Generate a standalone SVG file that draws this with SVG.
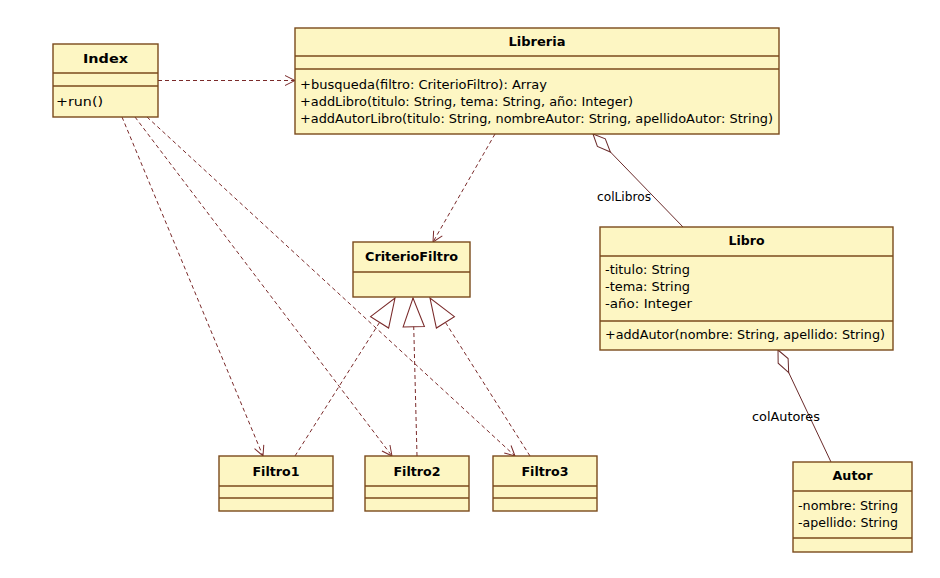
<svg xmlns="http://www.w3.org/2000/svg" width="940" height="578" viewBox="0 0 940 578">
  <defs>
    <style>
      .box { fill: #fdf6c3; stroke: #7a4a1c; stroke-width: 1.4; }
      .sep { stroke: #7a4a1c; stroke-width: 1.4; }
      .name { font-family: "DejaVu Sans", Verdana, sans-serif; font-size: 12.5px; font-weight: bold; fill: #000; text-anchor: middle; }
      .member { font-family: "DejaVu Sans", Verdana, sans-serif; font-size: 12px; fill: #000; }
      .label { font-family: "DejaVu Sans", Verdana, sans-serif; font-size: 12px; fill: #000; }
      .dep { fill: none; stroke: #7a2a2a; stroke-width: 1; stroke-dasharray: 4 3; }
      .assoc { fill: none; stroke: #6a2a2a; stroke-width: 1; }
    </style>
    <!-- open arrowhead for dependencies -->
    <marker id="open" markerUnits="userSpaceOnUse" markerWidth="14" markerHeight="14" viewBox="-1 -7 13 14" refX="10" refY="0" orient="auto">
      <path d="M0,-5 L10,0 L0,5" fill="none" stroke="#7a2a2a" stroke-width="1"/>
    </marker>
    <!-- hollow triangle for realization -->
    <marker id="tri" markerUnits="userSpaceOnUse" markerWidth="32" markerHeight="26" viewBox="-1 -12 30 24" refX="27" refY="0" orient="auto">
      <path d="M0,-10 L27,0 L0,10 Z" fill="#ffffff" stroke="#7a2a2a" stroke-width="1"/>
    </marker>
    <!-- hollow diamond for aggregation -->
    <marker id="dia" markerUnits="userSpaceOnUse" markerWidth="30" markerHeight="16" viewBox="-1 -8 28 16" refX="0" refY="0" orient="auto">
      <path d="M0,0 L12,-5.5 L25,0 L12,5.5 Z" fill="#ffffff" stroke="#6a2a2a" stroke-width="1"/>
    </marker>
  </defs>

  <rect width="940" height="578" fill="#ffffff"/>

  <!-- connectors -->
  <g id="connectors">
    <path class="dep" d="M158,80.5 L295,80.5" marker-end="url(#open)"/>
    <path class="dep" d="M495,134 L433,242" marker-end="url(#open)"/>
    <path class="dep" d="M122,117 L263,456" marker-end="url(#open)"/>
    <path class="dep" d="M135,117 L392,456" marker-end="url(#open)"/>
    <path class="dep" d="M147,117 L515,456" marker-end="url(#open)"/>
    <path class="dep" d="M295,456 L395,298" marker-end="url(#tri)"/>
    <path class="dep" d="M417,456 L413,298" marker-end="url(#tri)"/>
    <path class="dep" d="M530,456 L430,298" marker-end="url(#tri)"/>
    <path class="assoc" d="M593,134 L683,227" marker-start="url(#dia)"/>
    <path class="assoc" d="M778,350 L831,462" marker-start="url(#dia)"/>
    <text class="label" x="597" y="201" textLength="54" lengthAdjust="spacingAndGlyphs">colLibros</text>
    <text class="label" x="752" y="421" textLength="68" lengthAdjust="spacingAndGlyphs">colAutores</text>
  </g>

  <!-- Index -->
  <g id="index">
    <rect class="box" x="53" y="44" width="105" height="73"/>
    <line class="sep" x1="53" y1="73" x2="158" y2="73"/>
    <line class="sep" x1="53" y1="86" x2="158" y2="86"/>
    <text class="name" x="105.5" y="63" textLength="45" lengthAdjust="spacingAndGlyphs">Index</text>
    <text class="member" x="56" y="106" textLength="47" lengthAdjust="spacingAndGlyphs">+run()</text>
  </g>

  <!-- Libreria -->
  <g id="libreria">
    <rect class="box" x="295" y="28" width="484" height="106"/>
    <line class="sep" x1="295" y1="56" x2="779" y2="56"/>
    <line class="sep" x1="295" y1="69" x2="779" y2="69"/>
    <text class="name" x="537" y="46" textLength="57" lengthAdjust="spacingAndGlyphs">Libreria</text>
    <text class="member" x="300" y="89" textLength="247" lengthAdjust="spacingAndGlyphs">+busqueda(filtro: CriterioFiltro): Array</text>
    <text class="member" x="300" y="106" textLength="333" lengthAdjust="spacingAndGlyphs">+addLibro(titulo: String, tema: String, año: Integer)</text>
    <text class="member" x="300" y="123" textLength="473" lengthAdjust="spacingAndGlyphs">+addAutorLibro(titulo: String, nombreAutor: String, apellidoAutor: String)</text>
  </g>

  <!-- CriterioFiltro -->
  <g id="criteriofiltro">
    <rect class="box" x="353" y="242" width="117" height="55"/>
    <line class="sep" x1="353" y1="272" x2="470" y2="272"/>
    <text class="name" x="411.5" y="261" textLength="93" lengthAdjust="spacingAndGlyphs">CriterioFiltro</text>
  </g>

  <!-- Libro -->
  <g id="libro">
    <rect class="box" x="600" y="227" width="293" height="123"/>
    <line class="sep" x1="600" y1="256" x2="893" y2="256"/>
    <line class="sep" x1="600" y1="321" x2="893" y2="321"/>
    <text class="name" x="746.5" y="245" textLength="36" lengthAdjust="spacingAndGlyphs">Libro</text>
    <text class="member" x="605" y="274" textLength="85" lengthAdjust="spacingAndGlyphs">-titulo: String</text>
    <text class="member" x="605" y="291" textLength="85" lengthAdjust="spacingAndGlyphs">-tema: String</text>
    <text class="member" x="605" y="308" textLength="87" lengthAdjust="spacingAndGlyphs">-año: Integer</text>
    <text class="member" x="605" y="339" textLength="280" lengthAdjust="spacingAndGlyphs">+addAutor(nombre: String, apellido: String)</text>
  </g>

  <!-- Filtro1 -->
  <g id="filtro1">
    <rect class="box" x="219" y="456" width="114" height="55"/>
    <line class="sep" x1="219" y1="486" x2="333" y2="486"/>
    <line class="sep" x1="219" y1="498" x2="333" y2="498"/>
    <text class="name" x="276" y="476" textLength="47" lengthAdjust="spacingAndGlyphs">Filtro1</text>
  </g>

  <!-- Filtro2 -->
  <g id="filtro2">
    <rect class="box" x="365" y="456" width="104" height="55"/>
    <line class="sep" x1="365" y1="486" x2="469" y2="486"/>
    <line class="sep" x1="365" y1="498" x2="469" y2="498"/>
    <text class="name" x="417" y="476" textLength="47" lengthAdjust="spacingAndGlyphs">Filtro2</text>
  </g>

  <!-- Filtro3 -->
  <g id="filtro3">
    <rect class="box" x="493" y="456" width="104" height="55"/>
    <line class="sep" x1="493" y1="486" x2="597" y2="486"/>
    <line class="sep" x1="493" y1="498" x2="597" y2="498"/>
    <text class="name" x="545" y="476" textLength="47" lengthAdjust="spacingAndGlyphs">Filtro3</text>
  </g>

  <!-- Autor -->
  <g id="autor">
    <rect class="box" x="793" y="462" width="119" height="90"/>
    <line class="sep" x1="793" y1="491" x2="912" y2="491"/>
    <line class="sep" x1="793" y1="538" x2="912" y2="538"/>
    <text class="name" x="852.5" y="480" textLength="40" lengthAdjust="spacingAndGlyphs">Autor</text>
    <text class="member" x="798" y="510" textLength="100" lengthAdjust="spacingAndGlyphs">-nombre: String</text>
    <text class="member" x="798" y="527" textLength="100" lengthAdjust="spacingAndGlyphs">-apellido: String</text>
  </g>
</svg>
